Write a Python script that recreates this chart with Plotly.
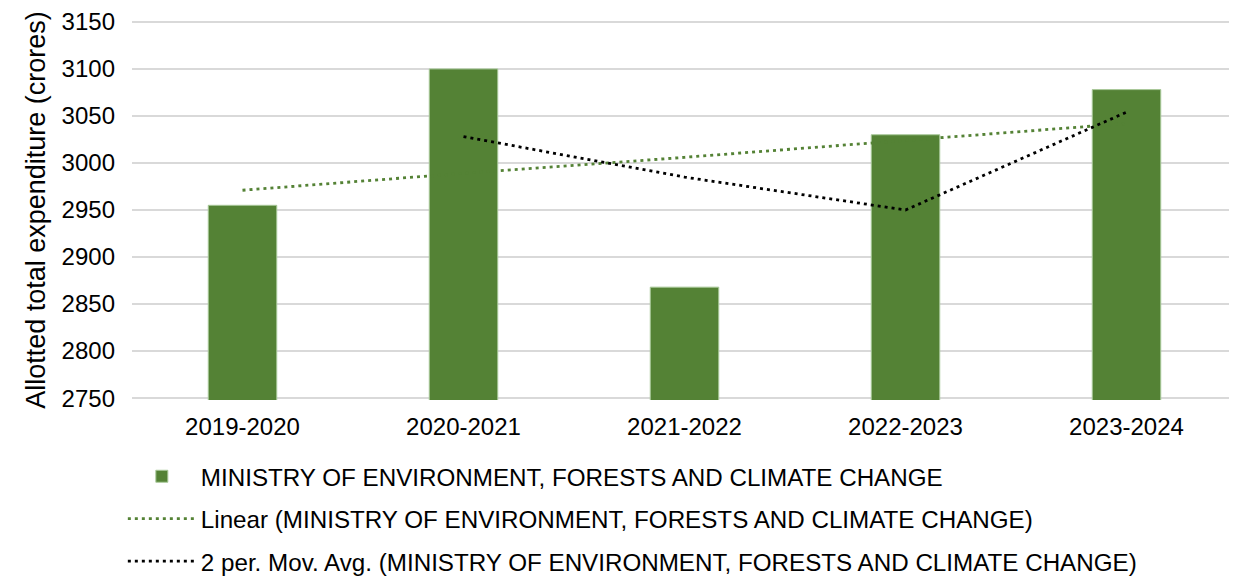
import plotly.graph_objects as go

categories = ["2019-2020", "2020-2021", "2021-2022", "2022-2023", "2023-2024"]
expenditure = [2955, 3100, 2868, 3030, 3078]
linear_trend = [2971, 2989, 3006, 3024, 3042]
moving_avg = [None, 3028, 2985, 2950, 3054]
y_ticks = [2750, 2800, 2850, 2900, 2950, 3000, 3050, 3100, 3150]

name = "MINISTRY OF ENVIRONMENT, FORESTS AND CLIMATE CHANGE"
green = "#548235"
font = "Liberation Sans, Arial, sans-serif"

fig = go.Figure()
fig.add_trace(go.Bar(
    x=categories, y=expenditure, name=name,
    marker=dict(color=green, line=dict(color="#A9C99A", width=1)),
    width=0.31, legendgroup="a",
))
fig.add_trace(go.Scatter(
    x=categories, y=linear_trend, mode="lines",
    name="Linear (" + name + ")",
    line=dict(color=green, width=2.8, dash="3px,4px"), legendgroup="b",
))
fig.add_trace(go.Scatter(
    x=categories, y=moving_avg, mode="lines",
    name="2 per. Mov. Avg. (" + name + ")",
    line=dict(color="#000000", width=2.8, dash="3px,4px"), legendgroup="c",
    connectgaps=False,
))

fig.update_layout(
    width=1229, height=570,
    margin=dict(l=124, r=0, t=12, b=178),
    paper_bgcolor="white", plot_bgcolor="white",
    font=dict(family=font, size=24, color="#000000"),
    showlegend=True,
    legend=dict(
        x=-0.0083, y=0.2175, xanchor="left", yanchor="top",
        yref="container",
        orientation="v", traceorder="grouped", tracegroupgap=8,
        font=dict(family=font, size=24.2, color="#000000"),
        itemwidth=68, bgcolor="rgba(0,0,0,0)",
    ),
)
fig.update_xaxes(
    showgrid=False, showline=False, zeroline=False, automargin=False,
    tickfont=dict(family=font, size=24), ticks="", ticklabelstandoff=10,
)
fig.update_yaxes(
    range=[2748, 3152], tickvals=y_ticks, automargin=False,
    showgrid=True, gridcolor="#D9D9D9", gridwidth=1.5,
    zeroline=False, showline=False, ticks="",
    tickfont=dict(family=font, size=24), ticklabelstandoff=16,
    ticklabeloverflow="allow",
    title=dict(text="Allotted total expenditure (crores)",
               font=dict(family=font, size=27), standoff=8),
)

fig.write_html("out.html")
